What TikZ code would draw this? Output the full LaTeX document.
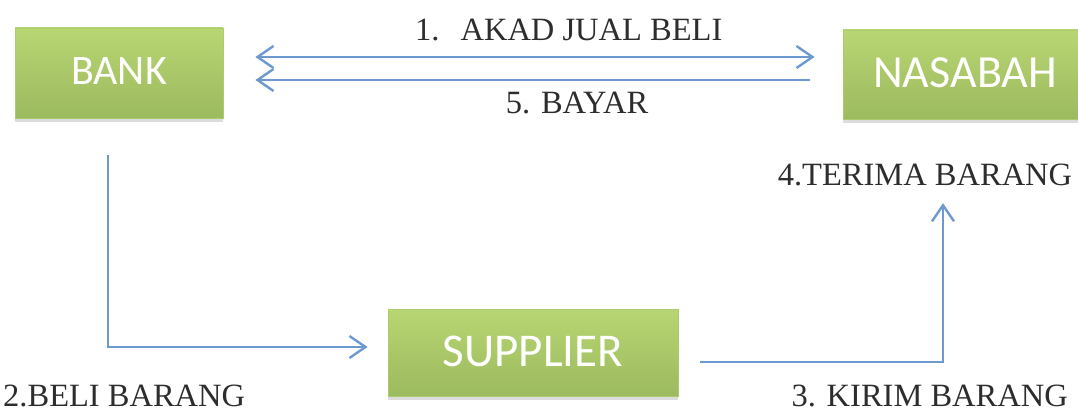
\documentclass[tikz,border=0pt]{standalone}
\usepackage{fontspec}
\setmainfont{Liberation Serif}
\newfontfamily\boxfont{Carlito}
\usetikzlibrary{arrows.meta,calc,shadows}

\definecolor{greenTop}{RGB}{184,214,114}
\definecolor{greenBot}{RGB}{156,186,95}
\definecolor{greenEdge}{RGB}{170,204,110}
\definecolor{flowBlue}{RGB}{108,153,208}
\definecolor{labelGray}{RGB}{45,45,45}

\tikzset{
  party/.style={rectangle, top color=greenTop, bottom color=greenBot,
    draw=greenEdge, line width=0.8pt, text=white, inner sep=0pt,
    drop shadow={opacity=0.28, shadow xshift=0pt, shadow yshift=-4pt},
    font=\boxfont\fontsize{42}{50}\selectfont},
  flow/.style={draw=flowBlue, line width=2.4pt,
    arrows={-Straight Barb[length=16pt,width=22pt,line width=2.4pt]}},
  flowboth/.style={flow, arrows={Straight Barb[length=16pt,width=22pt,line width=2.4pt]-Straight Barb[length=16pt,width=22pt,line width=2.4pt]}},
  steplabel/.style={text=labelGray, inner sep=0pt, font=\fontsize{32.5}{38}\selectfont}
}

\begin{document}
\begin{tikzpicture}[x=1pt,y=-1pt]
  \useasboundingbox (0,0) rectangle (1078,412);
  \clip (0,0) rectangle (1078,412);

  % the three parties
  \node[party, minimum width=208pt, minimum height=90pt] (bank) at (119,73) {\raisebox{4pt}{BANK}};
  \node[party, minimum width=244pt, minimum height=89pt,
        font=\boxfont\fontsize{46}{54}\selectfont] (nasabah) at (965,74.5) {\raisebox{3pt}{NASABAH}};
  \node[party, minimum width=290pt, minimum height=87pt,
        font=\boxfont\fontsize{47}{56}\selectfont] (supplier) at (533,352.5) {\raisebox{2pt}{SUPPLIER}};

  % step labels
  \node[steplabel, anchor=west] (akad) at (415,30) {1.\hspace{21pt}AKAD JUAL BELI};
  \node[steplabel] (bayar) at (577,103) {5. BAYAR};
  \node[steplabel] (terima) at (925,175) {4.TERIMA BARANG};
  \node[steplabel, anchor=west] (beli) at (3,396) {2.BELI BARANG};
  \node[steplabel, anchor=east] (kirim) at (1068,396) {3. KIRIM BARANG};

  % step 1: sale contract, both ways
  \draw[flowboth] ($(bank.east)+(32,-16)$) -- ($(nasabah.west)+(-28,-17.5)$);
  % step 5: payment back to the bank
  \draw[flow] ($(nasabah.west)+(-33,5.5)$) -- ($(bank.east)+(32,7)$);
  % step 2: bank buys from supplier
  \draw[flow] ($(bank.south)+(-11,37)$) |- ($(supplier.west)+(-20,-5.5)$);
  % steps 3 and 4: supplier ships to the customer
  \draw[flow] ($(supplier.east)+(22,9.5)$) -| ($(terima.south)+(18,17)$);
\end{tikzpicture}
\end{document}
